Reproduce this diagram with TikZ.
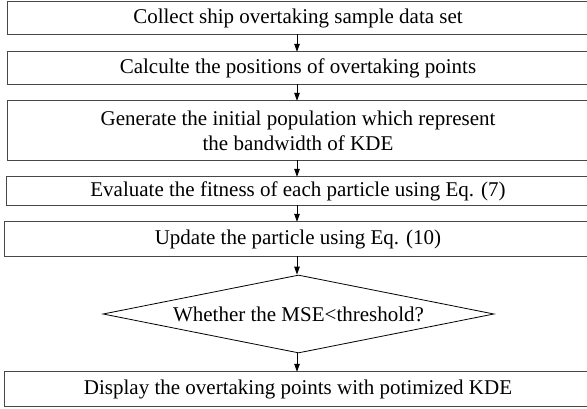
\documentclass[tikz,border=0pt]{standalone}
\usepackage{fontspec}
\setmainfont{Liberation Serif}
\usetikzlibrary{shapes.geometric,arrows.meta}
\begin{document}
\begin{tikzpicture}[x=1pt,y=-1pt,
  box/.style={rectangle, minimum width=580pt, inner sep=0pt, align=center, font=\fontsize{21}{25}\selectfont},
  boxline/.style={draw=black!72, line width=1.2pt},
  dia/.style={draw=black, line width=0.8pt, diamond, aspect=5, minimum width=391pt, minimum height=78pt, inner sep=0pt, font=\fontsize{21}{25}\selectfont},
  arr/.style={draw=black, line width=0.8pt, -{Triangle[length=8pt,width=5.5pt]}}]
\useasboundingbox (0,0) rectangle (587,409);
\clip (0,0) rectangle (587,409);
\node[box, minimum height=32pt] (b1) at (298,18) {Collect ship overtaking sample data set};
\node[box, minimum height=32pt] (b2) at (298,68) {Calculte the positions of overtaking points};
\node[box, minimum height=59pt] (b3) at (298,130.5) {Generate the initial population which represent\\the bandwidth of KDE};
\node[box, minimum height=28pt, minimum width=582pt] (b4) at (298,191) {Evaluate the fitness of each particle using Eq. (7)};
\node[box, minimum height=34pt, minimum width=586pt] (b5) at (298,239) {Update the particle using Eq. (10)};
\node[dia] (d) at (298.5,314) {Whether the MSE<threshold?};
\node[box, minimum height=34pt, minimum width=586pt] (b6) at (298,389) {Display the overtaking points with potimized KDE};
\foreach \n in {b1,b2,b3,b4,b5,b6}
  \draw[boxline] (\n.north west) rectangle ([xshift=30pt]\n.south east);
\coordinate (ax) at (297,0);
\draw[arr] (b1.south -| ax) -- (b2.north -| ax);
\draw[arr] (b2.south -| ax) -- (b3.north -| ax);
\draw[arr] (b3.south -| ax) -- (b4.north -| ax);
\draw[arr] (b4.south -| ax) -- (b5.north -| ax);
\draw[arr] (b5.south -| ax) -- (d.north -| ax);
\draw[arr] (d.south -| ax) -- (b6.north -| ax);
\end{tikzpicture}
\end{document}
